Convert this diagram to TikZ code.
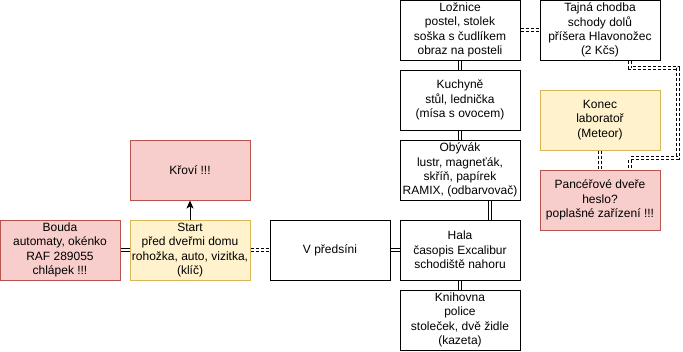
\documentclass[tikz,border=0pt]{standalone}
\usepackage{fontspec}
\setmainfont{Liberation Sans}
\usetikzlibrary{arrows.meta}
\definecolor{redfill}{HTML}{F8CECC}
\definecolor{redline}{HTML}{B85450}
\definecolor{yelfill}{HTML}{FFF2CC}
\definecolor{yelline}{HTML}{D6B656}
\tikzset{
  room/.style={draw=black, fill=white, line width=1pt, minimum width=120pt, minimum height=60pt,
    inner sep=0pt, align=center, font=\fontsize{12}{14.3}\selectfont},
  danger/.style={room, draw=redline, fill=redfill},
  goal/.style={room, draw=yelline, fill=yelfill},
  dbl/.style={draw=black, line width=1pt, double=white, double distance=2.6pt},
  dbldash/.style={dbl, dash pattern=on 3pt off 2pt},
  arr/.style={draw=black, line width=1pt, -{Stealth[length=8pt,width=7pt,inset=2pt]}}
}
\begin{document}
\begin{tikzpicture}[x=1pt,y=-1pt]
\useasboundingbox (0,0) rectangle (683,351);
\coordinate (c1) at (630,68);
\coordinate (c2) at (678,68);
\coordinate (c3) at (678,158);
\coordinate (c4) at (630,158);
\node[danger] (bouda) at (60,250) {Bouda\\automaty, okénko\\RAF 289055\\chlápek !!!};
\node[goal] (start) at (190,250) {Start\\před dveřmi domu\\rohožka, auto, vizitka,\\(klíč)};
\node[danger] (krovi) at (190,170) {Křoví !!!};
\node[room] (predsin) at (330,250) {V předsíni};
\node[room] (hala) at (460,250) {Hala\\časopis Excalibur\\schodiště nahoru};
\node[room] (knihovna) at (460,320) {Knihovna\\police\\stoleček, dvě židle\\(kazeta)};
\node[room] (obyvak) at (460,170) {Obývák\\lustr, magneťák,\\skříň, papírek\\RAMIX, (odbarvovač)};
\node[room] (kuchyne) at (460,100) {Kuchyně\\stůl, lednička\\(mísa s ovocem)};
\node[room] (loznice) at (460,30) {Ložnice\\postel, stolek\\soška s čudlíkem\\obraz na posteli};
\node[room] (tajna) at (600,30) {Tajná chodba\\schody dolů\\příšera Hlavonožec\\(2 Kčs)};
\node[goal] (konec) at (600,120) {Konec\\laboratoř\\(Meteor)};
\node[danger] (pancer) at (600,200) {Pancéřové dveře\\heslo?\\poplašné zařízení !!!};
\draw[dbl] (bouda.east) -- (start.west);
\draw[arr] (start.north) -- (krovi.south);
\draw[dbldash] (start.east) -- (predsin.west);
\draw[dbl] (predsin.east) -- (hala.west);
\draw[dbl] (hala.south) -- (knihovna.north);
\draw[dbl] ([xshift=30]obyvak.south) -- ([xshift=30]hala.north);
\draw[dbl] (kuchyne.south) -- (obyvak.north);
\draw[dbl] (loznice.south) -- (kuchyne.north);
\draw[dbldash] (loznice.east) -- (tajna.west);
\draw[dbldash] (konec.south) -- (pancer.north);
\draw[dbldash] ([xshift=30]tajna.south) -- (c1) -- (c2) -- (c3) -- (c4) -- ([xshift=30]pancer.north);
\end{tikzpicture}
\end{document}
